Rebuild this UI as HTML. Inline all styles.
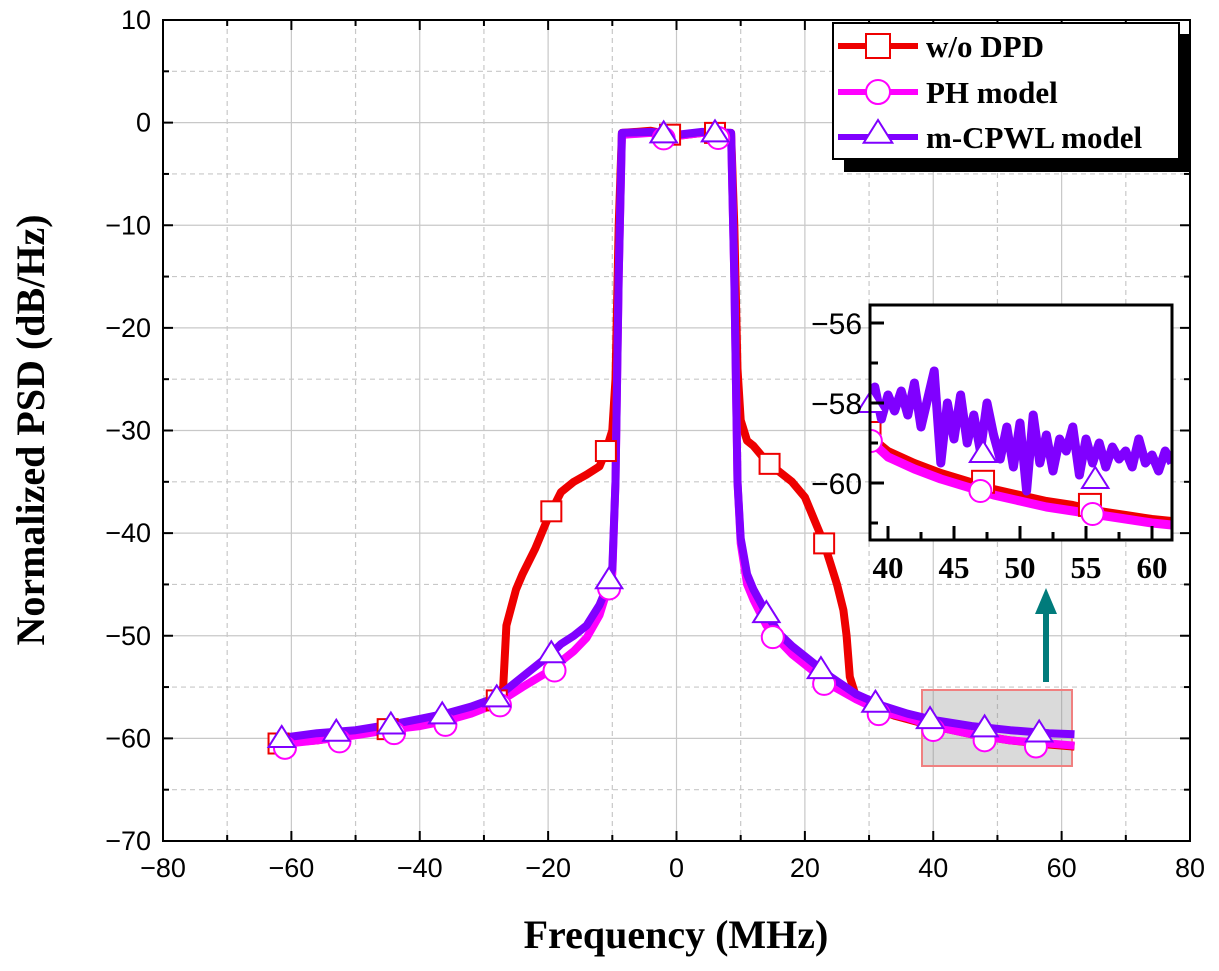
<!DOCTYPE html>
<html><head><meta charset="utf-8"><style>
body{margin:0;background:#fff;}
svg{display:block;}
</style></head><body>
<svg id="c" width="1219" height="971" viewBox="0 0 1219 971" xmlns="http://www.w3.org/2000/svg"></svg>
<script>
// ---- data ----
const woFreq=[-62,-56,-50,-44,-38,-34,-30,-28,-27,-26.5,-25,-24,-22,-21,-20,-18,-16,-14,-12,-11,-10,-9.5,-9,-8.5,-4,0,4,8.5,9,9.5,10,11,12,14,15,16,18,20,22,23,24,25,26,26.5,27,28,30,34,40,46,52,58,62];
const woVal=[-60.5,-60.2,-59.6,-59,-58.3,-57.6,-56.8,-56.3,-55,-49,-45.5,-44,-41.5,-40,-38.5,-36,-35,-34.3,-33.5,-32,-30,-25,-10,-1,-0.8,-1.3,-1,-1,-10,-24,-29,-31,-31.5,-33,-33.5,-34,-35,-36.5,-39.5,-41,-43,-45,-47.5,-50,-54,-56,-56.8,-57.8,-58.8,-59.6,-60.2,-60.6,-60.8];
const phFreq=[-62,-56,-50,-44,-40,-36,-32,-28,-24,-20,-18,-16,-14,-12,-11,-10,-9.5,-9,-8.5,-4,0,4,8.5,9,9.5,10,11,12,14,16,18,20,24,28,32,36,40,46,52,58,62];
const phVal=[-60.6,-60.2,-59.7,-59.1,-58.8,-58.3,-57.6,-56.6,-55,-53.5,-52.5,-51.5,-50.2,-48,-46,-44,-35,-15,-1.2,-1,-1.3,-1,-1.2,-15,-35,-41,-45,-46.5,-49,-50.5,-51.8,-52.8,-54.8,-56.2,-57.4,-58,-58.8,-59.6,-60.2,-60.5,-60.7];
const cpFreq=[-62,-56,-50,-44,-40,-36,-32,-28,-24,-20,-18,-16,-14,-12,-11,-10,-9.5,-9,-8.5,-4,0,4,8.5,9,9.5,10,11,12,14,16,18,20,24,28,32,36,40,46,52,58,62];
const cpVal=[-60,-59.5,-59.2,-58.6,-58.1,-57.6,-56.9,-56,-54,-52,-50.8,-50,-49,-47,-45.5,-43.5,-35,-15,-1,-0.9,-1.2,-0.9,-1,-15,-35,-40.5,-44,-45.5,-47.8,-49.8,-51,-52,-54,-55.7,-56.8,-57.6,-58.2,-58.8,-59.2,-59.5,-59.6];
const woMarkX=[-62,-45,-28,-19.5,-11,-1,6,14.5,23];
const phMarkX=[-61,-52.5,-44,-36,-27.5,-19,-10.5,-2,6.5,15,23,31.5,40,48,56];
const cpMarkX=[-61.5,-53,-44.5,-36.5,-28,-19.5,-10.5,-2,6,14,22.5,31,39.5,48,56.5];
const xTicks=[-80,-60,-40,-20,0,20,40,60,80];
const yTicks=[10,0,-10,-20,-30,-40,-50,-60,-70];
// inset data
const inCpFreq=[38.5,39,39.5,40,40.5,41,41.5,42,42.5,43,43.5,44,44.5,45,45.5,46,46.5,47,47.5,48,48.5,49,49.5,50,50.5,51,51.5,52,52.5,53,53.5,54,54.5,55,55.5,56,56.5,57,57.5,58,58.5,59,59.5,60,60.5,61,61.5];
const inCpVal=[-58.0,-57.6,-58.4,-57.8,-58.2,-57.7,-58.3,-57.5,-58.6,-57.9,-57.2,-59.5,-58.0,-58.9,-57.8,-59.0,-58.3,-59.2,-58.0,-58.8,-59.4,-58.6,-59.6,-58.5,-60.2,-58.3,-59.5,-58.8,-59.7,-58.9,-59.2,-58.6,-59.8,-58.9,-59.5,-59.0,-59.6,-59.1,-59.4,-59.2,-59.6,-58.9,-59.5,-59.3,-59.7,-59.2,-59.5];
const inPhFreq=[38.7,40,42,44,46,48,50,52,54,56,58,60,61.5];
const inPhVal=[-58.95,-59.35,-59.65,-59.9,-60.1,-60.3,-60.45,-60.6,-60.7,-60.8,-60.9,-61.0,-61.05];
const inWoVal=[-58.85,-59.2,-59.5,-59.75,-59.95,-60.15,-60.3,-60.45,-60.55,-60.7,-60.8,-60.9,-60.95];
const inWoMarkX=[38.6,47.2,55.3];
const inPhMarkX=[38.7,47,55.5];
const inCpMarkX=[38.7,47.2,55.7];
const inXTicks=[40,45,50,55,60];
const inYTicks=[-56,-58,-60];

// ---- helpers ----
const NS='http://www.w3.org/2000/svg';
const svg=document.getElementById('c');
function mk(tag,attrs,parent){const e=document.createElementNS(NS,tag);for(const k in attrs)e.setAttribute(k,attrs[k]);(parent||svg).appendChild(e);return e;}
const L=163,R=1190,T=20,B=841;
const X=v=>L+(v+80)/160*(R-L);
const Y=v=>T+(10-v)/80*(B-T);
const IL=870,IR=1172,IT=305,IB=540;
const IX=v=>888+(v-40)*13.2;
const IY=v=>483-(v+60)*40;
function interp(fx,fv,x){for(let i=0;i<fx.length-1;i++){if(x>=fx[i]&&x<=fx[i+1]){return fv[i]+(fv[i+1]-fv[i])*(x-fx[i])/(fx[i+1]-fx[i]);}}return x<fx[0]?fv[0]:fv[fv.length-1];}
function pts(fx,fv,xf,yf){return fx.map((f,i)=>xf(f).toFixed(1)+','+yf(fv[i]).toFixed(1)).join(' ');}
const C_RED='#ee0000',C_PINK='#ff00ff',C_PUR='#8000ff';
function square(x,y,col,s,g){return mk('rect',{x:x-s,y:y-s,width:2*s,height:2*s,fill:'#fff',stroke:col,'stroke-width':2},g);}
function circle(x,y,col,r,g){return mk('circle',{cx:x,cy:y,r:r,fill:'#fff',stroke:col,'stroke-width':2},g);}
function tri(x,y,col,s,g){return mk('polygon',{points:`${x},${y-s} ${x-s*1.1},${y+s*0.75} ${x+s*1.1},${y+s*0.75}`,fill:'#fff',stroke:col,'stroke-width':2},g);}

// ---- grid ----
const grid=mk('g',{});


for(let v=-70;v<=70;v+=10){const solid=(v%20===0);mk('line',{x1:X(v),x2:X(v),y1:T,y2:B,stroke:'#c8c8c8','stroke-width':1.2,'stroke-dasharray':solid?'':'5,4'},grid);}
for(let v=-65;v<=5;v+=5){const solid=(v%10===0);mk('line',{x1:L,x2:R,y1:Y(v),y2:Y(v),stroke:'#c8c8c8','stroke-width':1.2,'stroke-dasharray':solid?'':'5,4'},grid);}

// ---- highlight box ----
const hb=mk('rect',{x:922,y:690,width:150,height:76,fill:'rgba(150,150,150,0.35)',stroke:'#f08080','stroke-width':2});



// ---- series ----
const series=[[woFreq,woVal,C_RED,'series-wo-dpd'],[phFreq,phVal,C_PINK,'series-ph-model'],[cpFreq,cpVal,C_PUR,'series-m-cpwl-model']];
series.forEach(s=>{const p=mk('polyline',{points:pts(s[0],s[1],X,Y),fill:'none',stroke:s[2],'stroke-width':8,'stroke-linejoin':'round'});

});
const mg=mk('g',{});


woMarkX.forEach(x=>square(X(x),Y(interp(woFreq,woVal,x)),C_RED,10,mg));
phMarkX.forEach(x=>circle(X(x),Y(interp(phFreq,phVal,x))+4,C_PINK,11,mg));
cpMarkX.forEach(x=>tri(X(x),Y(interp(cpFreq,cpVal,x)),C_PUR,12,mg));

// ---- axes frame & ticks ----
const ax=mk('g',{});


mk('rect',{x:L,y:T,width:R-L,height:B-T,fill:'none',stroke:'#000','stroke-width':2},ax);
for(let v=-80;v<=80;v+=10){const len=(v%20===0)?10:6;mk('line',{x1:X(v),x2:X(v),y1:B,y2:B-len,stroke:'#000','stroke-width':2},ax);mk('line',{x1:X(v),x2:X(v),y1:T,y2:T+len,stroke:'#000','stroke-width':2},ax);}
for(let v=-70;v<=10;v+=5){const len=(v%10===0)?10:6;mk('line',{x1:L,x2:L+len,y1:Y(v),y2:Y(v),stroke:'#000','stroke-width':2},ax);mk('line',{x1:R,x2:R-len,y1:Y(v),y2:Y(v),stroke:'#000','stroke-width':2},ax);}
xTicks.forEach(v=>{const t=mk('text',{x:X(v),y:B+36,'text-anchor':'middle','font-family':'Liberation Sans, sans-serif','font-size':27},ax);t.textContent=(v<0?'\u2212'+(-v):v);

});
yTicks.forEach(v=>{const t=mk('text',{x:L-12,y:Y(v)+9,'text-anchor':'end','font-family':'Liberation Sans, sans-serif','font-size':27},ax);t.textContent=(v<0?'\u2212'+(-v):v);

});
const xt=mk('text',{x:676,y:948,'text-anchor':'middle','font-family':'Liberation Serif, serif','font-weight':'bold','font-size':40});
xt.textContent='Frequency (MHz)';


const yt=mk('text',{x:0,y:0,'text-anchor':'middle','font-family':'Liberation Serif, serif','font-weight':'bold','font-size':40,transform:'translate(44,430) rotate(-90)'});
yt.textContent='Normalized PSD (dB/Hz)';



// ---- arrow ----
const ar=mk('g',{});


mk('line',{x1:1046,y1:682,x2:1046,y2:612,stroke:'#007b7b','stroke-width':6},ar);
mk('polygon',{points:'1035,614 1057,614 1046,588',fill:'#007b7b'},ar);

// ---- inset ----
const ins=mk('g',{});


mk('rect',{x:IL,y:IT,width:IR-IL,height:IB-IT,fill:'#fff'},ins);
const clip=mk('clipPath',{id:'ic'},ins);mk('rect',{x:IL,y:IT,width:IR-IL,height:IB-IT},clip);
const ig=mk('g',{'clip-path':'url(#ic)'},ins);
const p1=mk('polyline',{points:pts(inPhFreq,inWoVal,IX,IY),fill:'none',stroke:C_RED,'stroke-width':8,'stroke-linejoin':'round'},ig);


const p2=mk('polyline',{points:pts(inPhFreq,inPhVal,IX,IY),fill:'none',stroke:C_PINK,'stroke-width':9,'stroke-linejoin':'round'},ig);


inWoMarkX.forEach(x=>square(IX(x),IY(interp(inPhFreq,inWoVal,x))-4,C_RED,11,ig));
const p3=mk('polyline',{points:pts(inCpFreq,inCpVal,IX,IY),fill:'none',stroke:C_PUR,'stroke-width':9,'stroke-linejoin':'round'},ig);


inPhMarkX.forEach(x=>circle(IX(x),IY(interp(inPhFreq,inPhVal,x)),C_PINK,11,ig));
inCpMarkX.forEach((x,i)=>tri(IX(x),IY([-58,-59.25,-59.9][i]),C_PUR,12,ins));
mk('rect',{x:IL,y:IT,width:IR-IL,height:IB-IT,fill:'none',stroke:'#000','stroke-width':3},ins);
for(let v=40;v<=61;v+=2.5){const len=(v%5===0)?14:8;mk('line',{x1:IX(v),x2:IX(v),y1:IB,y2:IB-len,stroke:'#000','stroke-width':3},ins);}
for(let v=-61;v<=-55.5;v+=1){const len=(v%2===0)?14:8;mk('line',{x1:IL,x2:IL+len,y1:IY(v),y2:IY(v),stroke:'#000','stroke-width':3},ins);}
inXTicks.forEach(v=>{const t=mk('text',{x:IX(v),y:IB+38,'text-anchor':'middle','font-family':'Liberation Serif, serif','font-weight':'bold','font-size':31},ins);t.textContent=v;

});
inYTicks.forEach(v=>{const t=mk('text',{x:IL-8,y:IY(v)+11,'text-anchor':'end','font-family':'Liberation Sans, sans-serif','font-size':30},ins);t.textContent='\u2212'+(-v);

});

// ---- legend ----
const lg=mk('g',{});


mk('rect',{x:844,y:34,width:346,height:138,fill:'#000'},lg);
mk('rect',{x:833,y:23,width:346,height:136,fill:'#fff',stroke:'#000','stroke-width':2},lg);
mk('rect',{x:1181,y:24,width:8,height:10,fill:'#fff'},lg);
const legItems=[['w/o DPD',C_RED,'s',46],['PH model',C_PINK,'c',92],['m-CPWL model',C_PUR,'t',137]];
legItems.forEach(it=>{const e=mk('g',{},lg);


mk('line',{x1:838,x2:918,y1:it[3],y2:it[3],stroke:it[1],'stroke-width':6},e);
if(it[2]==='s')square(878,it[3],it[1],12,e);else if(it[2]==='c')circle(878,it[3],it[1],12,e);else tri(878,it[3]-4,it[1],13,e);
const t=mk('text',{x:926,y:it[3]+11,'font-family':'Liberation Serif, serif','font-weight':'bold','font-size':31},e);t.textContent=it[0];});
</script>
</body></html>
